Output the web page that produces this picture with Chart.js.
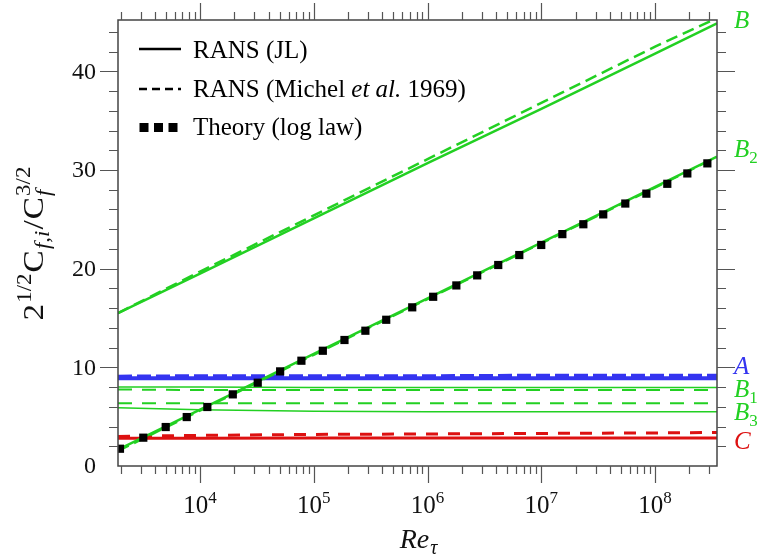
<!DOCTYPE html>
<html>
<head>
<meta charset="utf-8">
<script src="https://cdn.jsdelivr.net/npm/chart.js@4"></script>
<style>
  body { margin: 0; background: #fff; }
  #chart-container { width: 760px; height: 559px; }
</style>
</head>
<body>
<div id="chart-container"><canvas id="chart" width="760" height="559"></canvas></div>
<script>
// x positions (Re_tau) used for the model curves
const reLine = [1900, 1e4, 1e5, 1e6, 1e7, 1e8, 3.5e8];

// growing curves
const bJL = [15.5, 19.5, 25.1, 30.7, 36.2, 41.8, 44.85];
const bMichel = [15.5, 19.7, 25.4, 31.1, 36.8, 42.5, 45.4];
const b2JL = [1.65, 5.72, 11.36, 17.0, 22.64, 28.28, 31.35];
const b2Michel = [1.5, 5.6, 11.25, 16.9, 22.55, 28.2, 31.3];

// nearly flat curves
const aJL = [8.9, 8.9, 8.9, 8.9, 8.9, 8.9, 8.9];
const aMichel = [9.05, 9.1, 9.1, 9.1, 9.15, 9.15, 9.15];
const b1JL = [8.0, 8.0, 7.95, 7.95, 7.95, 7.95, 7.95];
const b1Michel = [7.75, 7.7, 7.7, 7.7, 7.7, 7.7, 7.7];
const b3JL = [5.9, 5.7, 5.55, 5.5, 5.5, 5.5, 5.5];
const b3Michel = [6.35, 6.35, 6.35, 6.35, 6.35, 6.35, 6.35];
const cJL = [2.8, 2.8, 2.85, 2.85, 2.85, 2.85, 2.85];
const cMichel = [3.0, 3.1, 3.2, 3.25, 3.3, 3.35, 3.4];

// log law points
const theoryRe = [1977, 3170, 4990, 7640, 11590, 19400, 32140, 50580, 77800, 1.2e5,
  1.86e5, 2.84e5, 4.33e5, 7.33e5, 1.12e6, 1.79e6, 2.73e6, 4.18e6, 6.4e6, 9.98e6,
  1.53e7, 2.34e7, 3.5e7, 5.47e7, 8.38e7, 1.28e8, 1.92e8, 2.88e8];
const theoryVal = [1.75, 2.87, 3.95, 4.96, 5.98, 7.26, 8.44, 9.59, 10.67, 11.68,
  12.77, 13.71, 14.82, 16.08, 17.15, 18.3, 19.32, 20.37, 21.38, 22.4,
  23.5, 24.5, 25.5, 26.6, 27.6, 28.6, 29.65, 30.67];

// ticks
const xMajor = [1e4, 1e5, 1e6, 1e7, 1e8];
const xMajorExp = ['4', '5', '6', '7', '8'];
const yMajor = [0, 10, 20, 30, 40];
const yMajorLabels = ['0', '10', '20', '30', '40'];

const GREEN = '#22d022';
const BLUE = '#3434f0';
const RED = '#dd1111';

// right hand labels
const sideLabels = [
  { main: 'B', sub: '', y: 28, color: GREEN },
  { main: 'B', sub: '2', y: 157, color: GREEN },
  { main: 'A', sub: '', y: 374, color: BLUE },
  { main: 'B', sub: '1', y: 397, color: GREEN },
  { main: 'B', sub: '3', y: 420, color: GREEN },
  { main: 'C', sub: '', y: 449, color: RED }
];

function pts(xs, ys) {
  return xs.map((x, i) => ({ x: x, y: ys[i] }));
}

function lineSet(xs, ys, color, width, dash) {
  return {
    data: pts(xs, ys),
    borderColor: color,
    borderWidth: width,
    borderDash: dash || [],
    pointRadius: 0,
    fill: false,
    tension: 0,
    order: 2
  };
}

const datasets = [
  {
    data: pts(theoryRe, theoryVal),
    showLine: false,
    pointStyle: 'rect',
    pointRadius: 5.8,
    pointBackgroundColor: '#000',
    pointBorderColor: '#000',
    pointBorderWidth: 0,
    order: 0
  },
  lineSet(reLine, bJL, GREEN, 2.5),
  lineSet(reLine, bMichel, GREEN, 2.5, [12, 6]),
  lineSet(reLine, b2JL, GREEN, 2.5),
  lineSet(reLine, b2Michel, GREEN, 2, [12, 6]),
  lineSet(reLine, aJL, BLUE, 4),
  lineSet(reLine, aMichel, BLUE, 4, [14, 5]),
  lineSet(reLine, b1JL, GREEN, 1.5),
  lineSet(reLine, b1Michel, GREEN, 2, [14, 10]),
  lineSet(reLine, b3JL, GREEN, 1.5),
  lineSet(reLine, b3Michel, GREEN, 2, [14, 10]),
  lineSet(reLine, cJL, RED, 3),
  lineSet(reLine, cMichel, RED, 3, [12, 10])
];

const SERIF = '"Liberation Serif", "Times New Roman", serif';

const decor = {
  id: 'decor',
  afterDraw(chart) {
    const ctx = chart.ctx;
    const a = chart.chartArea;
    const xs = chart.scales.x;
    const ys = chart.scales.y;
    ctx.save();

    // frame
    ctx.strokeStyle = '#444';
    ctx.lineWidth = 1.5;
    ctx.strokeRect(a.left, a.top, a.right - a.left, a.bottom - a.top);

    // x ticks, top and bottom, outside
    ctx.strokeStyle = '#555';
    ctx.lineWidth = 1.2;
    for (let d = 1e3; d <= 1e8; d *= 10) {
      for (let m = 1; m <= 9; m++) {
        const v = d * m;
        if (v < xs.min || v > xs.max) continue;
        const px = Math.round(xs.getPixelForValue(v)) + 0.5;
        const len = m === 1 ? 17 : 8;
        ctx.beginPath();
        ctx.moveTo(px, a.bottom);
        ctx.lineTo(px, a.bottom + len);
        ctx.moveTo(px, a.top);
        ctx.lineTo(px, a.top - len);
        ctx.stroke();
      }
    }
    // y ticks, left and right, outside
    for (let v = 2; v <= 44; v += 2) {
      const py = Math.round(ys.getPixelForValue(v)) + 0.5;
      const len = v % 10 === 0 ? 18 : 9;
      ctx.beginPath();
      ctx.moveTo(a.left, py);
      ctx.lineTo(a.left - len, py);
      ctx.moveTo(a.right, py);
      ctx.lineTo(a.right + len, py);
      ctx.stroke();
    }

    ctx.fillStyle = '#111';
    // y tick labels
    ctx.font = '24px ' + SERIF;
    ctx.textAlign = 'right';
    ctx.textBaseline = 'middle';
    yMajor.forEach((v, i) => {
      ctx.fillText(yMajorLabels[i], 96, ys.getPixelForValue(v) + 1);
    });

    // x tick labels 10^n
    ctx.textBaseline = 'alphabetic';
    ctx.textAlign = 'left';
    xMajor.forEach((v, i) => {
      const px = xs.getPixelForValue(v);
      ctx.font = '25px ' + SERIF;
      const w1 = ctx.measureText('10').width;
      ctx.font = '17px ' + SERIF;
      const w2 = ctx.measureText(xMajorExp[i]).width;
      const x0 = px - (w1 + w2) / 2;
      ctx.font = '25px ' + SERIF;
      ctx.fillText('10', x0, 513);
      ctx.font = '17px ' + SERIF;
      ctx.fillText(xMajorExp[i], x0 + w1, 503);
    });

    // x axis title Re_tau
    ctx.font = 'italic 28px ' + SERIF;
    const wRe = ctx.measureText('Re').width;
    ctx.font = 'italic 20px ' + SERIF;
    const wTau = ctx.measureText('\u03c4').width;
    const xr = 418 - (wRe + wTau) / 2;
    ctx.font = 'italic 28px ' + SERIF;
    ctx.fillText('Re', xr, 548);
    ctx.font = 'italic 20px ' + SERIF;
    ctx.fillText('\u03c4', xr + wRe + 1, 554);

    // y axis title
    const big = '29px ' + SERIF;
    const small = '20px ' + SERIF;
    const smallIt = 'italic 20px ' + SERIF;
    const parts = [
      { t: '2', f: big, dy: 0 },
      { t: '1/2', f: small, dy: -12 },
      { t: 'C', f: big, dy: 0 },
      { t: 'f,i', f: smallIt, dy: 6 },
      { t: '/', f: big, dy: 0 },
      { t: 'C', f: big, dy: 0 },
      { t: '3/2', f: small, dy: -13, stackSub: { t: 'f', f: smallIt, dy: 7 } }
    ];
    let total = 0;
    parts.forEach(p => {
      ctx.font = p.f;
      p.w = ctx.measureText(p.t).width + 1;
      total += p.w;
    });
    const target = 155;
    ctx.save();
    ctx.translate(43, 243);
    ctx.rotate(-Math.PI / 2);
    ctx.scale(target / total, 1);
    let u = -total / 2;
    parts.forEach(p => {
      ctx.font = p.f;
      ctx.fillText(p.t, u, p.dy);
      if (p.stackSub) {
        ctx.font = p.stackSub.f;
        ctx.fillText(p.stackSub.t, u, p.stackSub.dy);
      }
      u += p.w;
    });
    ctx.restore();

    // right side labels
    sideLabels.forEach(l => {
      ctx.fillStyle = l.color;
      ctx.font = 'italic 25px ' + SERIF;
      ctx.fillText(l.main, 734, l.y);
      if (l.sub) {
        const w = ctx.measureText(l.main).width;
        ctx.font = '17px ' + SERIF;
        ctx.fillText(l.sub, 734 + w, l.y + 6);
      }
    });

    // legend
    ctx.fillStyle = '#000';
    ctx.strokeStyle = '#000';
    ctx.lineWidth = 2.5;
    ctx.beginPath();
    ctx.moveTo(139, 49);
    ctx.lineTo(181, 49);
    ctx.stroke();
    ctx.setLineDash([8, 5]);
    ctx.beginPath();
    ctx.moveTo(139, 89);
    ctx.lineTo(181, 89);
    ctx.stroke();
    ctx.setLineDash([]);
    [144, 158.5, 173].forEach(cx => ctx.fillRect(cx - 4.5, 123, 9, 9));

    ctx.font = '25px ' + SERIF;
    ctx.fillText('RANS (JL)', 193, 58);
    let lx = 193;
    ctx.fillText('RANS (Michel ', lx, 97);
    lx += ctx.measureText('RANS (Michel ').width;
    ctx.font = 'italic 25px ' + SERIF;
    ctx.fillText('et al.', lx, 97);
    lx += ctx.measureText('et al.').width;
    ctx.font = '25px ' + SERIF;
    ctx.fillText(' 1969)', lx, 97);
    ctx.fillText('Theory (log law)', 193, 135);

    ctx.restore();
  }
};

const chart = document.getElementById('chart').getContext('2d');
const myChart = new Chart(chart, {
  type: 'line',
  data: { datasets: datasets },
  options: {
    responsive: false,
    animation: false,
    layout: { padding: { left: 118, right: 43, top: 20, bottom: 93 } },
    plugins: { legend: { display: false }, tooltip: { enabled: false } },
    scales: {
      x: { type: 'logarithmic', min: 1900, max: 3.5e8, display: false },
      y: { type: 'linear', min: 0, max: 45.2, display: false }
    }
  },
  plugins: [decor]
});
</script>
</body>
</html>
